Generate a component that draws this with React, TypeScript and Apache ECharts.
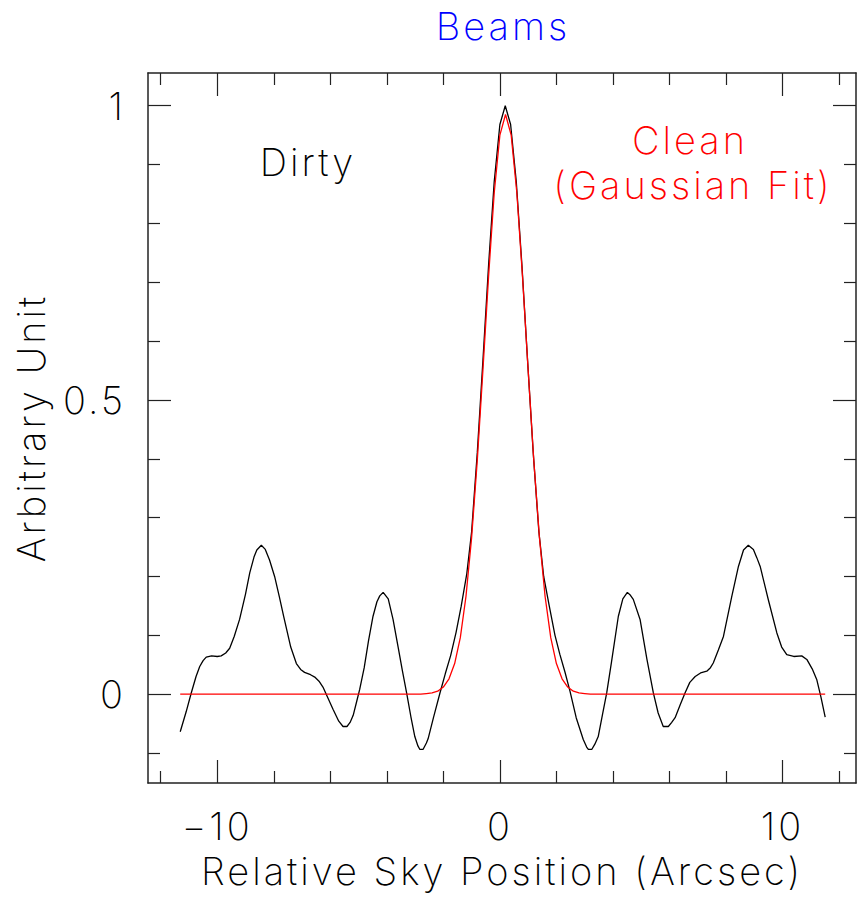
import React, { useEffect, useRef } from "react";
import * as echarts from "echarts";

// ---- data ----
const dirtyX = [
  -11.31, -11.1, -10.92, -10.75, -10.62, -10.5, -10.39, -10.2, -10.0, -9.86, -9.7, -9.56, -9.4, -9.21, -9.0,
  -8.85, -8.7, -8.6, -8.44, -8.3, -8.15, -7.97, -7.8, -7.65, -7.4, -7.2, -7.05, -6.91, -6.7, -6.55, -6.4,
  -6.26, -6.1, -5.9, -5.7, -5.55, -5.41, -5.3, -5.19, -5.08, -4.96, -4.8, -4.65, -4.49, -4.35, -4.25, -4.13,
  -3.95, -3.78, -3.6, -3.45, -3.3, -3.15, -3.01, -2.9, -2.83, -2.72, -2.6, -2.54, -2.35, -2.12, -1.93, -1.74,
  -1.55, -1.37, -1.17, -1.0, -0.8, -0.6, -0.4, -0.2, 0.0, 0.19, 0.38, 0.58, 0.78, 0.98, 1.18, 1.38, 1.55,
  1.75, 1.95, 2.12, 2.3, 2.48, 2.7, 2.95, 3.07, 3.13, 3.25, 3.36, 3.48, 3.63, 3.78, 3.95, 4.19, 4.35, 4.51,
  4.62, 4.72, 4.96, 5.2, 5.43, 5.6, 5.78, 5.96, 6.08, 6.2, 6.38, 6.55, 6.72, 6.91, 7.1, 7.32, 7.45, 7.55,
  7.73, 7.91, 8.2, 8.44, 8.62, 8.79, 8.97, 9.09, 9.21, 9.5, 9.8, 9.97, 10.15, 10.4, 10.68, 10.86, 11.05,
  11.21, 11.36, 11.51,
];
const dirtyY = [
  -0.064, -0.03, 0.002, 0.03, 0.047, 0.057, 0.063, 0.065, 0.064, 0.065, 0.07, 0.078, 0.098, 0.127, 0.17,
  0.206, 0.233, 0.245, 0.253, 0.246, 0.228, 0.2, 0.165, 0.132, 0.08, 0.052, 0.042, 0.037, 0.033, 0.029, 0.022,
  0.012, -0.005, -0.026, -0.046, -0.055, -0.055, -0.048, -0.036, -0.015, 0.008, 0.045, 0.09, 0.132, 0.157, 0.167, 0.173,
  0.162, 0.127, 0.08, 0.04, 0.002, -0.038, -0.072, -0.088, -0.094, -0.094, -0.083, -0.076, -0.04, 0.002, 0.035, 0.066,
  0.105, 0.149, 0.205, 0.276, 0.41, 0.567, 0.729, 0.871, 0.968, 1.0, 0.968, 0.871, 0.729, 0.567, 0.41, 0.276, 0.2,
  0.149, 0.1, 0.068, 0.038, 0.005, -0.04, -0.077, -0.09, -0.094, -0.094, -0.085, -0.072, -0.035, 0.002, 0.055, 0.132, 0.162, 0.173,
  0.168, 0.161, 0.127, 0.06, 0.002, -0.032, -0.055, -0.055, -0.048, -0.04, -0.018, 0.002, 0.02, 0.03, 0.036, 0.039, 0.045, 0.053,
  0.075, 0.098, 0.165, 0.217, 0.245, 0.253, 0.246, 0.232, 0.217, 0.16, 0.104, 0.08, 0.067, 0.064, 0.065, 0.059, 0.043,
  0.025, -0.005, -0.039,
];
const cleanX = [
  -11.31, -2.8, -2.6, -2.4, -2.2, -2.0, -1.8, -1.6, -1.4, -1.2, -1.0, -0.8, -0.6, -0.4, -0.2, 0.0, 0.2,
  0.4, 0.6, 0.8, 1.0, 1.2, 1.4, 1.6, 1.8, 2.0, 2.2, 2.4, 2.6, 2.8, 3.0, 3.2, 11.51,
];
const cleanY = [
  0, 0, 0.001, 0.002, 0.005, 0.012, 0.026, 0.052, 0.096, 0.166, 0.266, 0.397, 0.551, 0.71, 0.852, 0.95, 0.985,
  0.95, 0.852, 0.71, 0.551, 0.397, 0.266, 0.166, 0.096, 0.052, 0.026, 0.012, 0.005, 0.002, 0.001, 0, 0,
];

const xMajorTicks = [-10, 0, 10];
const xMinorTicks = [-12, -8, -6, -4, -2, 2, 4, 6, 8, 12];
const yMajorTicks = [0, 0.5, 1];
const yMinorTicks = [-0.1, 0.1, 0.2, 0.3, 0.4, 0.6, 0.7, 0.8, 0.9];
const xRange = [-12.45, 12.6];
const yRange = [-0.151, 1.0556];

const titleText = "Beams";
const xName = "Relative Sky Position (Arcsec)";
const yName = "Arbitrary Unit";
const dirtyLabel = "Dirty";
const cleanLabel1 = "Clean";
const cleanLabel2 = "(Gaussian Fit)";

const FONT = "Inter, 'DejaVu Sans', sans-serif";
const FS = 38;
const FW = 200;
const frameColor = "#222";

function fmt(v: number) {
  const s = String(v);
  return s.startsWith("-") ? "\u2212" + s.slice(1) : s;
}

function xAxisDef(position: "top" | "bottom", ticks: number[], len: number, showLine: boolean, withLabels: boolean): any {
  return {
    type: "value",
    position,
    min: xRange[0],
    max: xRange[1],
    splitLine: { show: false },
    axisLine: { show: showLine, onZero: false, lineStyle: { color: frameColor, width: 1.5 } },
    axisTick: { show: true, inside: true, length: len, customValues: ticks, lineStyle: { color: frameColor, width: 1.2 } },
    axisLabel: withLabels
      ? {
          show: true,
          customValues: ticks,
          formatter: (v: number) => fmt(v),
          fontSize: FS,
          fontFamily: FONT,
          fontWeight: FW,
          color: "#000",
          margin: 24,
        }
      : { show: false },
    name: withLabels ? xName : "",
    nameLocation: "middle",
    nameGap: 69,
    nameMoveOverlap: false,
    nameTextStyle: { fontSize: FS, fontFamily: FONT, fontWeight: FW, color: "#000" },
  };
}

function yAxisDef(position: "left" | "right", ticks: number[], len: number, showLine: boolean, withLabels: boolean): any {
  return {
    type: "value",
    position,
    min: yRange[0],
    max: yRange[1],
    splitLine: { show: false },
    axisLine: { show: showLine, onZero: false, lineStyle: { color: frameColor, width: 1.5 } },
    axisTick: { show: true, inside: true, length: len, customValues: ticks, lineStyle: { color: frameColor, width: 1.2 } },
    axisLabel: withLabels
      ? {
          show: true,
          customValues: ticks,
          formatter: (v: number) => fmt(v),
          fontSize: FS,
          fontFamily: FONT,
          fontWeight: FW,
          color: "#000",
          margin: 22,
        }
      : { show: false },
    name: withLabels ? yName : "",
    nameLocation: "middle",
    nameRotate: 90,
    nameGap: 98,
    nameMoveOverlap: false,
    nameTextStyle: { fontSize: FS, fontFamily: FONT, fontWeight: FW, color: "#000" },
  };
}

export default function App() {
  const ref = useRef<HTMLDivElement>(null);
  useEffect(() => {
    if (!ref.current) return;
    const chart = echarts.init(ref.current, undefined, { renderer: "svg" });
    const dirty = dirtyX.map((x, i) => [x, dirtyY[i]]);
    const clean = cleanX.map((x, i) => [x, cleanY[i]]);
    const textStyle = (text: string, fill: string) => ({
      text,
      fill,
      fontSize: FS,
      fontFamily: FONT,
      fontWeight: FW,
      align: "center",
      verticalAlign: "middle",
    });
    chart.setOption({
      animation: false,
      backgroundColor: "#fff",
      grid: { left: 148, right: 1, top: 73, bottom: 114, containLabel: false, outerBoundsMode: "none" },
      xAxis: [
        xAxisDef("bottom", xMajorTicks, 23, true, true),
        xAxisDef("bottom", xMinorTicks, 12, false, false),
        xAxisDef("top", xMajorTicks, 23, true, false),
        xAxisDef("top", xMinorTicks, 12, false, false),
      ],
      yAxis: [
        yAxisDef("left", yMajorTicks, 23, true, true),
        yAxisDef("left", yMinorTicks, 12, false, false),
        yAxisDef("right", yMajorTicks, 23, true, false),
        yAxisDef("right", yMinorTicks, 12, false, false),
      ],
      series: [
        {
          name: "Dirty",
          type: "line",
          xAxisIndex: 0,
          yAxisIndex: 0,
          data: dirty,
          showSymbol: false,
          lineStyle: { color: "#000", width: 1.3 },
        },
        {
          name: "Clean",
          type: "line",
          xAxisIndex: 0,
          yAxisIndex: 0,
          data: clean,
          showSymbol: false,
          lineStyle: { color: "#ff0000", width: 1.3 },
        },
      ],
      graphic: [
        { type: "text", x: 503, y: 26, style: textStyle(titleText, "#0000ff") },
        { type: "text", x: 308, y: 162, style: textStyle(dirtyLabel, "#000") },
        { type: "text", x: 690, y: 140, style: textStyle(cleanLabel1, "#ff0000") },
        { type: "text", x: 693, y: 185, style: textStyle(cleanLabel2, "#ff0000") },
      ],
    });
    return () => chart.dispose();
  }, []);
  return (
    <>
      <style>{".beams-chart text { letter-spacing: 3px; }"}</style>
      <div
        ref={ref}
        className="beams-chart"
        style={{ position: "fixed", left: 0, top: 0, width: 857, height: 897, background: "#fff" }}
      />
    </>
  );
}
